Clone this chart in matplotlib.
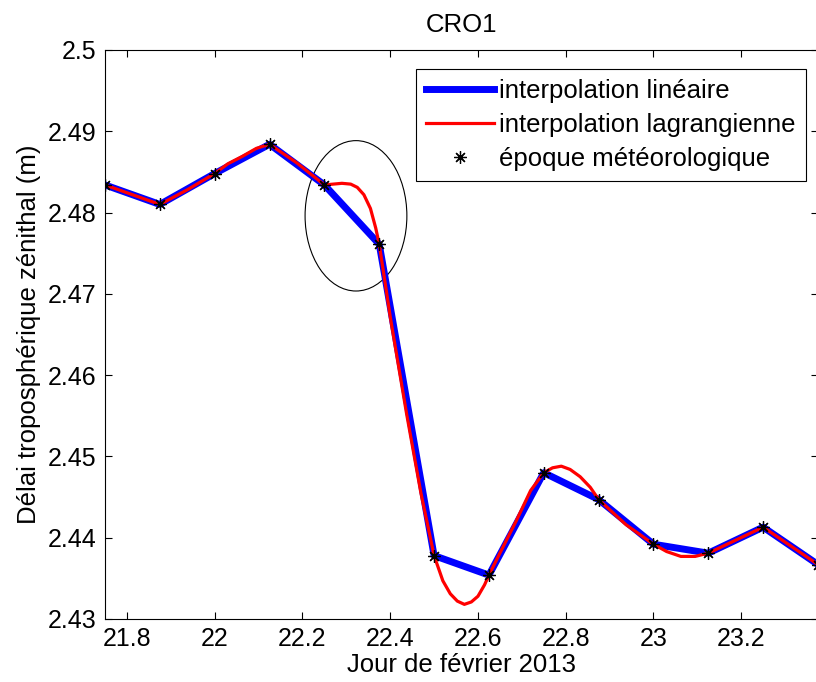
import matplotlib
matplotlib.use("Agg")
import matplotlib.pyplot as plt
from matplotlib.patches import Ellipse
from matplotlib.ticker import FuncFormatter

plt.rcParams['font.family'] = ['Liberation Sans', 'DejaVu Sans']

# epoques meteorologiques (jour de fevrier 2013) et delai zenithal (m)
jours = [21.75, 21.875, 22.0, 22.125, 22.25, 22.375, 22.5,
         22.625, 22.75, 22.875, 23.0, 23.125, 23.25, 23.375]
delai = [2.4834, 2.4810, 2.4848, 2.4884, 2.4834, 2.4761, 2.4378,
         2.4354, 2.4480, 2.4447, 2.4392, 2.4381, 2.4413, 2.4367]

# courbe lagrangienne
jours_lag = [21.75, 21.8125, 21.875, 21.9375, 22.0, 22.03, 22.0625, 22.095,
             22.125, 22.1875, 22.25, 22.27, 22.29, 22.31, 22.325, 22.34,
             22.355, 22.367, 22.375, 22.39, 22.40, 22.4375, 22.47, 22.5,
             22.52, 22.537, 22.553, 22.569, 22.585, 22.60, 22.615, 22.625,
             22.65, 22.6875, 22.72, 22.75, 22.77, 22.79, 22.81, 22.833,
             22.856, 22.875, 22.9375, 23.0, 23.03, 23.0625, 23.095, 23.125,
             23.1875, 23.25, 23.3125, 23.375]
delai_lag = [2.4834, 2.4822, 2.4810, 2.4828, 2.4848, 2.4860, 2.4869, 2.4879,
             2.4884, 2.4861, 2.4834, 2.4835, 2.4836, 2.4835, 2.4831, 2.4822,
             2.4805, 2.4781, 2.4761, 2.4708, 2.4672, 2.4552, 2.4455, 2.4378,
             2.4347, 2.4331, 2.4322, 2.4318, 2.4321, 2.4328, 2.4342, 2.4354,
             2.4381, 2.4421, 2.4458, 2.4480, 2.4486, 2.4488, 2.4484, 2.4475,
             2.4462, 2.4447, 2.4416, 2.4392, 2.4383, 2.4377, 2.4377, 2.4381,
             2.4397, 2.4413, 2.4390, 2.4367]

fig = plt.figure(figsize=(8.16, 6.82), dpi=100)
ax = fig.add_axes([105/816, 63/682, 713/816, 569/682])

ax.plot(jours, delai, color='blue', linewidth=5, label='interpolation linéaire')
ax.plot(jours_lag, delai_lag, color='red', linewidth=2.3, label='interpolation lagrangienne')
ax.plot(jours, delai, linestyle='none', marker=(8, 2, 0), markersize=9,
        markeredgewidth=0.9, color='black', label='époque météorologique')

ax.add_patch(Ellipse((22.322, 2.4796), 0.232, 0.0185, fill=False,
                     edgecolor='black', linewidth=0.8))

ax.set_xlim(21.75, 23.375)
ax.set_ylim(2.43, 2.5)
ax.set_xticks([21.8, 22.0, 22.2, 22.4, 22.6, 22.8, 23.0, 23.2])
ax.set_yticks([2.43, 2.44, 2.45, 2.46, 2.47, 2.48, 2.49, 2.5])
fmt = FuncFormatter(lambda v, p: '%g' % round(v, 4))
ax.xaxis.set_major_formatter(fmt)
ax.yaxis.set_major_formatter(fmt)
ax.tick_params(direction='in', length=5, width=0.8, labelsize=18,
               top=True, right=True, pad=6)

ax.set_title('CRO1', fontsize=18.5, pad=13)
ax.set_xlabel('Jour de février 2013', fontsize=18.5, labelpad=1)
ax.set_ylabel('Délai troposphérique zénithal (m)', fontsize=18.5, labelpad=5)

leg = ax.legend(loc='upper right', bbox_to_anchor=(0.983, 0.9666), borderaxespad=0,
                fontsize=18.5, fancybox=False, framealpha=1, edgecolor='black',
                handlelength=2.65, handletextpad=0.2, borderpad=0.4, labelspacing=0.38)
leg.get_frame().set_linewidth(0.8)

fig.savefig('out.png', dpi=100)
